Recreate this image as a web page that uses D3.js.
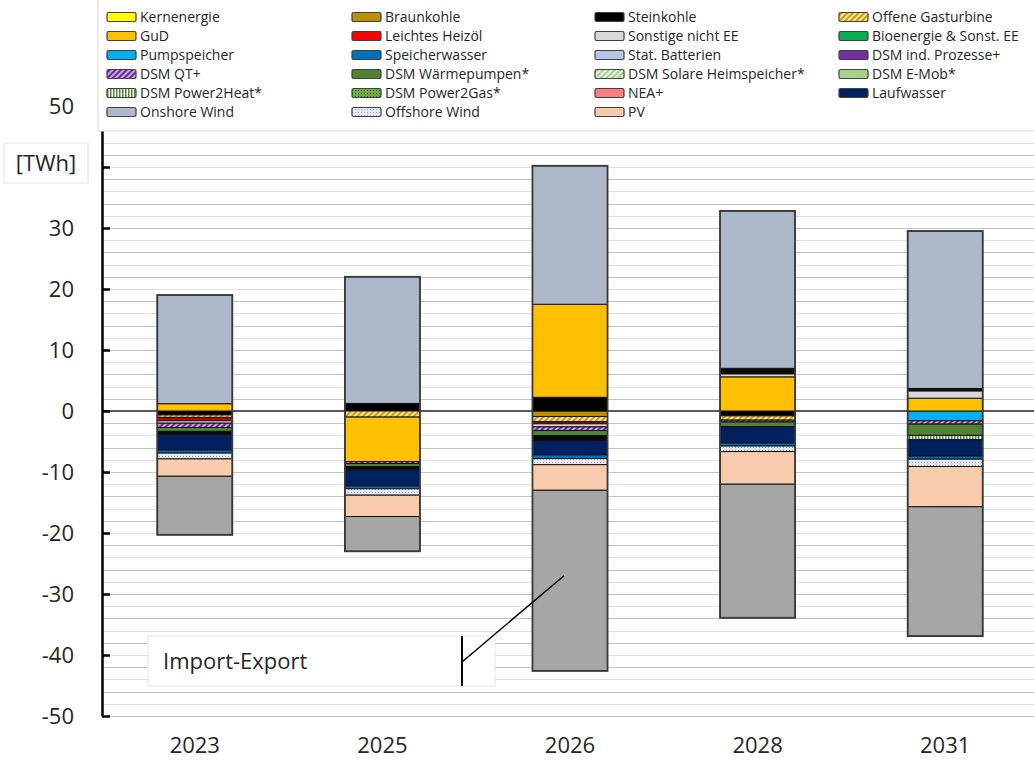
<!DOCTYPE html>
<html>
<head>
<meta charset="utf-8">
<script src="https://cdn.jsdelivr.net/npm/d3@7"></script>
<style>
  body { margin: 0; background: #fff; }
  svg { font-family: "Open Sans", Lato, sans-serif; }
</style>
</head>
<body>
<script>
// years on the x axis
const years = ['2023', '2025', '2026', '2028', '2031'];

// values in TWh per year (2023, 2025, 2026, 2028, 2031)
const pumpspeicher   = [0, 0, 0, 0, -1.6];
const braunkohle     = [0, 0, -0.9, 0, 0];
const steinkohle     = [-0.65, 1.25, 2.25, -0.8, 0];
const offeneGT       = [-0.4, -1.0, -0.85, -0.7, 0];
const gud            = [1.2, -7.3, 15.25, 5.6, 2.1];
const heizoel        = [-0.55, 0, -0.35, 0, 0];
const sonstigeNichtEE = [-0.4, 0, -0.5, 0.5, 1.2];
const dsmQT          = [-0.7, -0.3, -0.6, -0.3, -0.55];
const dsmWP          = [-0.65, -0.5, -0.85, -0.75, -1.85];
const dsmP2H         = [0, 0, 0, 0, -0.7];
const restDunkel     = [-0.55, -0.5, -0.8, 0.9, 0.4];
const laufwasser     = [-2.5, -2.7, -2.35, -2.7, -2.7];
const speicherwasser = [-0.5, -0.45, -0.6, -0.5, -0.5];
const offshore       = [-0.95, -1.05, -1.0, -0.9, -1.2];
const pv             = [-2.85, -3.5, -4.2, -5.35, -6.6];
const importExport   = [-9.6, -5.7, -29.6, -21.9, -21.2];
const onshore        = [17.8, 20.75, 22.7, 25.8, 25.8];

const yTicks = [-50, -40, -30, -20, -10, 0, 10, 20, 30, 40, 50];

// stacking order (bottom-up for positives, top-down for negatives)
const series = [
  { key: 'Pumpspeicher', values: pumpspeicher, fill: '#00b0f0' },
  { key: 'Braunkohle', values: braunkohle, fill: '#bf8f00' },
  { key: 'Steinkohle', values: steinkohle, fill: '#000000' },
  { key: 'Offene Gasturbine', values: offeneGT, fill: 'url(#p-ogt)' },
  { key: 'GuD', values: gud, fill: '#ffc000' },
  { key: 'Leichtes Heizöl', values: heizoel, fill: '#c00000' },
  { key: 'Sonstige nicht EE', values: sonstigeNichtEE, fill: '#d9d9d9' },
  { key: 'DSM QT+', values: dsmQT, fill: 'url(#p-qt)' },
  { key: 'DSM Wärmepumpen*', values: dsmWP, fill: '#548235' },
  { key: 'DSM Power2Heat*', values: dsmP2H, fill: 'url(#p-p2h)' },
  { key: 'rest', values: restDunkel, fill: '#0a0a0a' },
  { key: 'Laufwasser', values: laufwasser, fill: '#002060' },
  { key: 'Speicherwasser', values: speicherwasser, fill: '#0070c0' },
  { key: 'Offshore Wind', values: offshore, fill: 'url(#p-off)' },
  { key: 'PV', values: pv, fill: '#f8cbad' },
  { key: 'Import-Export', values: importExport, fill: '#a6a6a6' },
  { key: 'Onshore Wind', values: onshore, fill: '#adb9ca' }
];

const legendItems = [
  ['Kernenergie', '#ffff00'], ['Braunkohle', '#bf8f00'], ['Steinkohle', '#000000'], ['Offene Gasturbine', 'url(#p-ogt)'],
  ['GuD', '#ffc000'], ['Leichtes Heizöl', '#ff0000'], ['Sonstige nicht EE', '#d9d9d9'], ['Bioenergie & Sonst. EE', '#00b050'],
  ['Pumpspeicher', '#00b0f0'], ['Speicherwasser', '#0070c0'], ['Stat. Batterien', '#b4c7e7'], ['DSM ind. Prozesse+', '#7030a0'],
  ['DSM QT+', 'url(#p-qt)'], ['DSM Wärmepumpen*', '#548235'], ['DSM Solare Heimspeicher*', 'url(#p-sol)'], ['DSM E-Mob*', '#a9d18e'],
  ['DSM Power2Heat*', 'url(#p-p2h)'], ['DSM Power2Gas*', 'url(#p-p2g)'], ['NEA+', '#ff7c80'], ['Laufwasser', '#002060'],
  ['Onshore Wind', '#adb9ca'], ['Offshore Wind', 'url(#p-off)'], ['PV', '#f8cbad']
];

const width = 1034, height = 760;

const svg = d3.select('body').append('svg')
  .attr('width', width)
  .attr('height', height);

// patterns
const defs = svg.append('defs');
const stripes = (id, bg, fg, w, rot) => {
  let p = defs.append('pattern')
    .attr('id', id).attr('patternUnits', 'userSpaceOnUse')
    .attr('width', w).attr('height', w)
    .attr('patternTransform', 'rotate(' + rot + ')');
  p.append('rect').attr('width', w).attr('height', w).attr('fill', bg);
  p.append('rect').attr('width', w / 2).attr('height', w).attr('fill', fg);
};
stripes('p-ogt', '#c99a1e', '#ffe58a', 4, 45);
stripes('p-qt', '#6a2c96', '#c8a2e2', 4, 45);
stripes('p-sol', '#a9d08e', '#e6f2dc', 4, 45);
stripes('p-p2h', '#ffffff', '#548235', 3, 0);
const dots = (id, bg, fg) => {
  let p = defs.append('pattern')
    .attr('id', id).attr('patternUnits', 'userSpaceOnUse')
    .attr('width', 3).attr('height', 3);
  p.append('rect').attr('width', 3).attr('height', 3).attr('fill', bg);
  p.append('rect').attr('width', 1).attr('height', 1).attr('fill', fg);
};
dots('p-p2g', '#70ad47', '#375623');
dots('p-off', '#e4e9f2', '#9aa3b3');

const y = d3.scaleLinear().domain([-50, 50]).range([716, 106]);
const x = d3.scaleBand().domain(years)
  .range([101, 1039])
  .paddingInner(0.6)
  .paddingOuter(0.3);

// gridlines every 2 TWh
const grid = d3.range(-50, 46, 2);
svg.append('g').selectAll('line')
  .data(grid)
  .enter().append('line')
  .attr('x1', 102).attr('x2', width)
  .attr('y1', d => Math.round(y(d)) + 0.5)
  .attr('y2', d => Math.round(y(d)) + 0.5)
  .attr('stroke', (d, i) => i % 2 ? '#e2e2e2' : '#c4c4c4')
  .attr('stroke-width', 1);

// zero line
svg.append('line')
  .attr('x1', 102).attr('x2', width)
  .attr('y1', y(0)).attr('y2', y(0))
  .attr('stroke', '#595959')
  .attr('stroke-width', 2);

// stacked bars
const rows = years.map((yr, i) => {
  let r = { year: yr };
  series.forEach(s => { r[s.key] = s.values[i]; });
  return r;
});

const stacked = d3.stack()
  .keys(series.map(s => s.key))
  .offset(d3.stackOffsetDiverging)(rows);

let bars = svg.append('g');
stacked.forEach((layer, li) => {
  bars.append('g')
    .attr('fill', series[li].fill)
    .selectAll('rect')
    .data(layer.filter(d => d[1] - d[0] !== 0))
    .enter().append('rect')
    .attr('x', d => x(d.data.year))
    .attr('width', x.bandwidth())
    .attr('y', d => y(Math.max(d[0], d[1])))
    .attr('height', d => Math.abs(y(d[0]) - y(d[1])))
    .attr('stroke', '#111')
    .attr('stroke-width', 1);
});

// outline of each bar
const extent = rows.map(r => {
  let pos = 0, neg = 0;
  series.forEach(s => { if (r[s.key] > 0) pos += r[s.key]; else neg += r[s.key]; });
  return { year: r.year, pos: pos, neg: neg };
});
bars.append('g').selectAll('rect')
  .data(extent)
  .enter().append('rect')
  .attr('x', d => x(d.year))
  .attr('width', x.bandwidth())
  .attr('y', d => y(d.pos))
  .attr('height', d => y(d.neg) - y(d.pos))
  .attr('fill', 'none')
  .attr('stroke', '#3a3a3a')
  .attr('stroke-width', 1.8);

// y axis (the 40 label sits under the unit box)
let yAxis = svg.append('g')
  .attr('transform', 'translate(102,0)')
  .call(d3.axisLeft(y)
    .tickValues(yTicks)
    .tickSize(-8)
    .tickSizeOuter(0)
    .tickPadding(28)
    .tickFormat(d => d === 40 ? '' : String(d)));
yAxis.select('.domain').attr('stroke', '#000').attr('stroke-width', 2.5);
yAxis.selectAll('.tick line').attr('stroke', '#000').attr('stroke-width', 2.5);
yAxis.selectAll('.tick text')
  .attr('fill', '#262626')
  .style('font-size', '22px')
  .style('font-family', '"Open Sans", Lato, sans-serif');

// x labels
svg.append('g').selectAll('text')
  .data(years)
  .enter().append('text')
  .attr('x', d => x(d) + x.bandwidth() / 2)
  .attr('y', 753)
  .attr('text-anchor', 'middle')
  .attr('fill', '#262626')
  .style('font-size', '22px')
  .text(d => d);

// Import-Export annotation
let note = svg.append('g');
note.append('rect')
  .attr('x', 148).attr('y', 636)
  .attr('width', 347).attr('height', 50)
  .attr('fill', '#fff')
  .attr('stroke', '#e6e6e6');
note.append('text')
  .attr('x', 163).attr('y', 669)
  .attr('fill', '#262626')
  .style('font-size', '22px')
  .text('Import-Export');
note.append('line')
  .attr('x1', 462).attr('x2', 462)
  .attr('y1', 636).attr('y2', 686)
  .attr('stroke', '#000').attr('stroke-width', 2);
note.append('line')
  .attr('x1', 462).attr('y1', 662)
  .attr('x2', x('2026') + x.bandwidth() * 0.42)
  .attr('y2', y(-27))
  .attr('stroke', '#000').attr('stroke-width', 1.5);

// legend
let legend = svg.append('g');
legend.append('rect')
  .attr('x', 98).attr('y', -1)
  .attr('width', 940).attr('height', 132)
  .attr('fill', '#fff')
  .attr('stroke', '#d9d9d9');
const colX = [107, 352, 595, 839];
let items = legend.selectAll('g.item')
  .data(legendItems)
  .enter().append('g')
  .attr('class', 'item')
  .attr('transform', (d, i) => 'translate(' + colX[i % 4] + ',' + (17 + Math.floor(i / 4) * 19) + ')');
items.append('rect')
  .attr('x', 0).attr('y', -4.5)
  .attr('width', 29).attr('height', 9)
  .attr('rx', 1.5)
  .attr('fill', d => d[1])
  .attr('stroke', '#404040')
  .attr('stroke-width', 1.2);
items.append('text')
  .attr('x', 33).attr('y', 5)
  .attr('fill', '#262626')
  .style('font-size', '14px')
  .text(d => d[0]);

// unit box
let unit = svg.append('g');
unit.append('rect')
  .attr('x', 4).attr('y', 143)
  .attr('width', 84).attr('height', 40)
  .attr('fill', '#fff')
  .attr('stroke', '#e6e6e6');
unit.append('text')
  .attr('x', 46).attr('y', 171)
  .attr('text-anchor', 'middle')
  .attr('fill', '#262626')
  .style('font-size', '22px')
  .text('[TWh]');
</script>
</body>
</html>
